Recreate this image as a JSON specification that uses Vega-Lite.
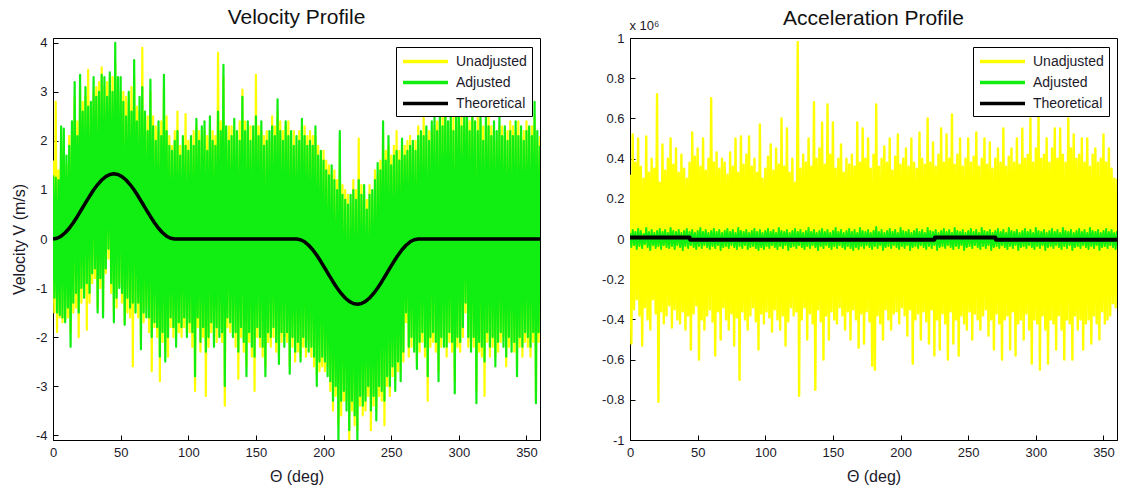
{
"$schema": "https://vega.github.io/schema/vega-lite/v6.json",
"background": "white",
"padding": {"left": 10, "top": 6, "right": 4, "bottom": 2},
"config": {
  "font": "Liberation Sans",
  "view": {"stroke": "#000", "strokeWidth": 1},
  "axis": {"grid": false, "domainColor": "#000", "tickColor": "#000", "tickSize": -5, "labelPadding": 11, "labelFontSize": 13, "labelColor": "#1c1a2a", "labelFont": "Liberation Sans", "titleFont": "Liberation Sans", "titleFontSize": 16, "titleFontWeight": "normal", "titleColor": "#1c1a2a", "labelFlush": false, "labelOverlap": false},
  "axisX": {"titlePadding": 9},
  "axisY": {"titlePadding": 8},
  "title": {"fontSize": 21, "fontWeight": "normal", "font": "Liberation Sans", "color": "#111", "offset": 9, "baseline": "alphabetic"},
  "line": {"strokeJoin": "round"},
  "legend": {"orient": "none", "legendY": 9, "title": null, "strokeColor": "#000", "fillColor": "#fff", "padding": 5, "symbolType": "M-1,0H5", "symbolSize": 225, "symbolStrokeWidth": 3.5, "labelFontSize": 14, "labelFont": "Liberation Sans", "labelColor": "#1c1a2a", "labelOffset": 36, "rowPadding": 4, "cornerRadius": 0}
},
"datasets": {
"vel": [
{"t":0,"u":1.6,"a":1.3},{"t":1,"u":-1.5,"a":-1.2},{"t":2,"u":2.8,"a":1.25},{"t":3,"u":-1.9,"a":-1.5},{"t":4,"u":1.4,"a":1.2},{"t":5,"u":-1.6,"a":-1.55},{"t":6,"u":2.2,"a":2.3},{"t":7,"u":-1.7,"a":-1.6},{"t":8,"u":1.9,"a":2.25},{"t":9,"u":-1.65,"a":-1.7},
{"t":10,"u":1.5,"a":1.7},{"t":11,"u":-1.6,"a":-1.4},{"t":12,"u":2.1,"a":1.9},{"t":13,"u":-1.9,"a":-2.2},{"t":14,"u":2.2,"a":2.4},{"t":15,"u":-1.5,"a":-1.3},{"t":16,"u":2.9,"a":3.2},{"t":17,"u":-1.4,"a":-1.1},{"t":18,"u":2.4,"a":2.1},{"t":19,"u":-2.0,"a":-1.5},
{"t":20,"u":3.1,"a":3.35},{"t":21,"u":-1.3,"a":-1.0},{"t":22,"u":2.8,"a":2.6},{"t":23,"u":-1.1,"a":-1.2},{"t":24,"u":2.9,"a":3.1},{"t":25,"u":-1.85,"a":-0.9},{"t":26,"u":3.45,"a":2.7},{"t":27,"u":-1.3,"a":-1.1},{"t":28,"u":2.6,"a":2.8},{"t":29,"u":-0.9,"a":-0.7},
{"t":30,"u":3.0,"a":3.3},{"t":31,"u":-0.8,"a":-0.6},{"t":32,"u":3.1,"a":2.9},{"t":33,"u":-1.4,"a":-1.5},{"t":34,"u":3.2,"a":3.0},{"t":35,"u":-1.0,"a":-0.8},{"t":36,"u":3.5,"a":3.35},{"t":37,"u":-1.5,"a":-1.6},{"t":38,"u":3.1,"a":3.3},{"t":39,"u":-0.7,"a":-0.6},
{"t":40,"u":3.2,"a":2.9},{"t":41,"u":-0.4,"a":-0.2},{"t":42,"u":3.3,"a":3.4},{"t":43,"u":-1.1,"a":-0.9},{"t":44,"u":3.3,"a":3.0},{"t":45,"u":-1.5,"a":-1.7},{"t":46,"u":3.6,"a":4.0},{"t":47,"u":-1.4,"a":-1.2},{"t":48,"u":3.1,"a":3.3},{"t":49,"u":-0.9,"a":-1.0},
{"t":50,"u":3.0,"a":3.3},{"t":51,"u":-1.3,"a":-1.1},{"t":52,"u":3.0,"a":2.8},{"t":53,"u":-1.7,"a":-1.75},{"t":54,"u":2.9,"a":2.5},{"t":55,"u":-1.5,"a":-1.2},{"t":56,"u":2.8,"a":3.0},{"t":57,"u":-1.6,"a":-1.4},{"t":58,"u":3.1,"a":2.6},{"t":59,"u":-2.6,"a":-1.3},
{"t":60,"u":3.3,"a":3.65},{"t":61,"u":-1.3,"a":-1.5},{"t":62,"u":2.7,"a":2.4},{"t":63,"u":-1.6,"a":-1.3},{"t":64,"u":2.6,"a":2.9},{"t":65,"u":-2.1,"a":-2.25},{"t":66,"u":3.9,"a":3.1},{"t":67,"u":-1.7,"a":-1.5},{"t":68,"u":2.4,"a":2.6},{"t":69,"u":-1.4,"a":-1.6},
{"t":70,"u":2.5,"a":2.2},{"t":71,"u":-1.9,"a":-1.6},{"t":72,"u":3.0,"a":3.25},{"t":73,"u":-2.7,"a":-2.0},{"t":74,"u":2.5,"a":2.3},{"t":75,"u":-1.8,"a":-1.7},{"t":76,"u":2.3,"a":2.0},{"t":77,"u":-2.0,"a":-1.8},{"t":78,"u":2.2,"a":2.4},{"t":79,"u":-2.9,"a":-2.4},
{"t":80,"u":2.4,"a":2.1},{"t":81,"u":-2.1,"a":-1.9},{"t":82,"u":3.1,"a":3.35},{"t":83,"u":-2.3,"a":-2.5},{"t":84,"u":2.5,"a":2.2},{"t":85,"u":-2.4,"a":-2.0},{"t":86,"u":2.1,"a":1.9},{"t":87,"u":-1.8,"a":-1.6},{"t":88,"u":1.9,"a":1.8},{"t":89,"u":-2.0,"a":-1.8},
{"t":90,"u":2.2,"a":2.0},{"t":91,"u":-2.0,"a":-2.2},{"t":92,"u":2.6,"a":2.2},{"t":93,"u":-1.9,"a":-1.7},{"t":94,"u":1.9,"a":1.7},{"t":95,"u":-2.0,"a":-1.8},{"t":96,"u":1.9,"a":2.1},{"t":97,"u":-1.8,"a":-1.6},{"t":98,"u":2.55,"a":1.9},{"t":99,"u":-1.9,"a":-2.0},
{"t":100,"u":2.0,"a":1.8},{"t":101,"u":-1.9,"a":-1.7},{"t":102,"u":2.0,"a":2.1},{"t":103,"u":-2.2,"a":-1.9},{"t":104,"u":2.2,"a":1.9},{"t":105,"u":-3.1,"a":-2.8},{"t":106,"u":2.3,"a":2.45},{"t":107,"u":-1.8,"a":-1.6},{"t":108,"u":2.2,"a":2.0},{"t":109,"u":-2.3,"a":-2.1},
{"t":110,"u":2.1,"a":2.3},{"t":111,"u":-2.0,"a":-1.8},{"t":112,"u":2.2,"a":2.4},{"t":113,"u":-3.2,"a":-2.3},{"t":114,"u":2.1,"a":1.8},{"t":115,"u":-2.2,"a":-2.0},{"t":116,"u":2.3,"a":2.5},{"t":117,"u":-1.9,"a":-1.7},{"t":118,"u":2.2,"a":2.0},{"t":119,"u":-2.0,"a":-2.2},
{"t":120,"u":2.1,"a":1.9},{"t":121,"u":-2.1,"a":-1.8},{"t":122,"u":3.8,"a":2.6},{"t":123,"u":-1.8,"a":-2.0},{"t":124,"u":2.4,"a":2.2},{"t":125,"u":-2.1,"a":-1.9},{"t":126,"u":3.3,"a":3.55},{"t":127,"u":-3.4,"a":-3.0},{"t":128,"u":2.1,"a":2.3},{"t":129,"u":-1.8,"a":-1.6},
{"t":130,"u":2.3,"a":2.0},{"t":131,"u":-1.9,"a":-1.7},{"t":132,"u":2.3,"a":2.1},{"t":133,"u":-1.9,"a":-2.0},{"t":134,"u":2.2,"a":2.45},{"t":135,"u":-2.2,"a":-1.9},{"t":136,"u":2.0,"a":2.2},{"t":137,"u":-2.85,"a":-2.3},{"t":138,"u":2.4,"a":2.0},{"t":139,"u":-2.0,"a":-1.8},
{"t":140,"u":3.05,"a":2.9},{"t":141,"u":-2.3,"a":-2.1},{"t":142,"u":2.4,"a":2.2},{"t":143,"u":-2.6,"a":-2.8},{"t":144,"u":2.2,"a":2.4},{"t":145,"u":-2.1,"a":-1.9},{"t":146,"u":2.3,"a":2.0},{"t":147,"u":-2.4,"a":-2.2},{"t":148,"u":2.1,"a":2.3},{"t":149,"u":-3.1,"a":-2.4},
{"t":150,"u":3.35,"a":2.5},{"t":151,"u":-2.0,"a":-1.8},{"t":152,"u":2.3,"a":2.1},{"t":153,"u":-2.2,"a":-2.0},{"t":154,"u":2.2,"a":2.4},{"t":155,"u":-2.4,"a":-2.2},{"t":156,"u":2.1,"a":1.9},{"t":157,"u":-2.6,"a":-2.8},{"t":158,"u":2.2,"a":2.0},{"t":159,"u":-2.1,"a":-1.9},
{"t":160,"u":2.0,"a":2.2},{"t":161,"u":-2.2,"a":-2.0},{"t":162,"u":2.5,"a":2.3},{"t":163,"u":-2.0,"a":-1.8},{"t":164,"u":2.3,"a":2.1},{"t":165,"u":-2.3,"a":-2.1},{"t":166,"u":2.6,"a":2.85},{"t":167,"u":-2.4,"a":-2.55},{"t":168,"u":2.4,"a":2.2},{"t":169,"u":-2.1,"a":-1.9},
{"t":170,"u":2.2,"a":2.0},{"t":171,"u":-2.0,"a":-2.2},{"t":172,"u":2.3,"a":2.4},{"t":173,"u":-2.1,"a":-1.9},{"t":174,"u":2.4,"a":2.1},{"t":175,"u":-2.6,"a":-2.75},{"t":176,"u":2.0,"a":2.2},{"t":177,"u":-2.2,"a":-2.0},{"t":178,"u":2.2,"a":1.9},{"t":179,"u":-2.5,"a":-2.3},
{"t":180,"u":1.9,"a":2.1},{"t":181,"u":-2.3,"a":-2.1},{"t":182,"u":2.2,"a":2.0},{"t":183,"u":-2.4,"a":-2.5},{"t":184,"u":2.3,"a":2.45},{"t":185,"u":-2.2,"a":-2.0},{"t":186,"u":2.3,"a":2.1},{"t":187,"u":-2.4,"a":-2.2},{"t":188,"u":2.1,"a":1.9},{"t":189,"u":-2.1,"a":-2.3},
{"t":190,"u":2.2,"a":2.0},{"t":191,"u":-2.4,"a":-2.2},{"t":192,"u":2.1,"a":1.9},{"t":193,"u":-2.6,"a":-2.4},{"t":194,"u":2.1,"a":2.3},{"t":195,"u":-2.8,"a":-3.0},{"t":196,"u":1.9,"a":1.7},{"t":197,"u":-2.7,"a":-2.5},{"t":198,"u":1.6,"a":1.8},{"t":199,"u":-2.6,"a":-2.4},
{"t":200,"u":1.8,"a":1.6},{"t":201,"u":-2.7,"a":-2.5},{"t":202,"u":1.6,"a":1.4},{"t":203,"u":-2.6,"a":-2.8},{"t":204,"u":1.5,"a":1.3},{"t":205,"u":-3.1,"a":-2.9},{"t":206,"u":1.3,"a":1.5},{"t":207,"u":-3.5,"a":-3.3},{"t":208,"u":1.4,"a":1.2},{"t":209,"u":-3.2,"a":-3.0},
{"t":210,"u":1.2,"a":1.0},{"t":211,"u":-3.8,"a":-4.1},{"t":212,"u":2.0,"a":2.2},{"t":213,"u":-3.6,"a":-3.3},{"t":214,"u":1.1,"a":0.9},{"t":215,"u":-3.3,"a":-3.1},{"t":216,"u":1.0,"a":0.8},{"t":217,"u":-3.3,"a":-3.5},{"t":218,"u":0.9,"a":0.7},{"t":219,"u":-4.1,"a":-3.9},
{"t":220,"u":0.7,"a":0.9},{"t":221,"u":-3.5,"a":-3.3},{"t":222,"u":1.2,"a":1.0},{"t":223,"u":-3.8,"a":-3.6},{"t":224,"u":1.0,"a":0.8},{"t":225,"u":-3.9,"a":-4.1},{"t":226,"u":2.05,"a":1.2},{"t":227,"u":-3.4,"a":-3.2},{"t":228,"u":1.1,"a":0.9},{"t":229,"u":-3.6,"a":-3.4},
{"t":230,"u":0.9,"a":1.1},{"t":231,"u":-3.5,"a":-3.3},{"t":232,"u":0.8,"a":0.6},{"t":233,"u":-3.2,"a":-3.0},{"t":234,"u":1.1,"a":0.9},{"t":235,"u":-3.9,"a":-3.5},{"t":236,"u":0.8,"a":1.0},{"t":237,"u":-3.4,"a":-3.2},{"t":238,"u":1.4,"a":1.2},{"t":239,"u":-3.5,"a":-3.7},
{"t":240,"u":1.3,"a":1.55},{"t":241,"u":-3.2,"a":-3.0},{"t":242,"u":1.6,"a":1.4},{"t":243,"u":-3.3,"a":-3.1},{"t":244,"u":2.2,"a":2.4},{"t":245,"u":-3.8,"a":-3.3},{"t":246,"u":1.8,"a":1.6},{"t":247,"u":-3.0,"a":-2.8},{"t":248,"u":1.9,"a":2.1},{"t":249,"u":-3.2,"a":-3.0},
{"t":250,"u":1.7,"a":1.5},{"t":251,"u":-2.8,"a":-2.6},{"t":252,"u":1.9,"a":1.7},{"t":253,"u":-2.9,"a":-3.1},{"t":254,"u":2.2,"a":1.8},{"t":255,"u":-2.7,"a":-2.5},{"t":256,"u":1.8,"a":1.6},{"t":257,"u":-2.7,"a":-2.9},{"t":258,"u":1.9,"a":2.05},{"t":259,"u":-2.5,"a":-2.3},
{"t":260,"u":1.9,"a":1.7},{"t":261,"u":-1.7,"a":-1.5},{"t":262,"u":2.0,"a":1.8},{"t":263,"u":-2.4,"a":-2.2},{"t":264,"u":2.1,"a":1.9},{"t":265,"u":-2.2,"a":-2.0},{"t":266,"u":1.8,"a":2.0},{"t":267,"u":-2.1,"a":-2.3},{"t":268,"u":2.0,"a":1.8},{"t":269,"u":-2.5,"a":-2.65},
{"t":270,"u":2.3,"a":2.1},{"t":271,"u":-2.3,"a":-2.1},{"t":272,"u":2.0,"a":2.2},{"t":273,"u":-2.1,"a":-1.9},{"t":274,"u":2.55,"a":2.1},{"t":275,"u":-2.4,"a":-2.2},{"t":276,"u":2.1,"a":2.3},{"t":277,"u":-3.3,"a":-2.8},{"t":278,"u":2.2,"a":2.0},{"t":279,"u":-2.2,"a":-2.0},
{"t":280,"u":2.2,"a":2.4},{"t":281,"u":-2.1,"a":-1.9},{"t":282,"u":2.3,"a":2.5},{"t":283,"u":-2.3,"a":-2.1},{"t":284,"u":2.4,"a":2.2},{"t":285,"u":-2.7,"a":-2.9},{"t":286,"u":2.4,"a":2.6},{"t":287,"u":-2.2,"a":-2.0},{"t":288,"u":2.6,"a":2.3},{"t":289,"u":-2.0,"a":-2.2},
{"t":290,"u":2.5,"a":2.7},{"t":291,"u":-2.4,"a":-2.2},{"t":292,"u":2.2,"a":2.4},{"t":293,"u":-2.1,"a":-1.9},{"t":294,"u":2.4,"a":2.6},{"t":295,"u":-2.3,"a":-2.1},{"t":296,"u":2.5,"a":2.2},{"t":297,"u":-2.9,"a":-3.15},{"t":298,"u":2.3,"a":2.5},{"t":299,"u":-2.2,"a":-2.0},
{"t":300,"u":2.5,"a":2.7},{"t":301,"u":-2.3,"a":-2.1},{"t":302,"u":2.6,"a":2.3},{"t":303,"u":-2.0,"a":-1.8},{"t":304,"u":2.3,"a":2.5},{"t":305,"u":-1.5,"a":-1.3},{"t":306,"u":2.6,"a":2.8},{"t":307,"u":-2.2,"a":-2.0},{"t":308,"u":2.4,"a":2.2},{"t":309,"u":-2.1,"a":-2.3},
{"t":310,"u":2.8,"a":2.6},{"t":311,"u":-2.2,"a":-2.0},{"t":312,"u":2.2,"a":2.4},{"t":313,"u":-3.1,"a":-3.35},{"t":314,"u":2.5,"a":2.2},{"t":315,"u":-2.3,"a":-2.1},{"t":316,"u":2.4,"a":2.6},{"t":317,"u":-2.4,"a":-2.2},{"t":318,"u":2.3,"a":2.0},{"t":319,"u":-3.2,"a":-2.5},
{"t":320,"u":2.3,"a":2.5},{"t":321,"u":-2.1,"a":-1.9},{"t":322,"u":2.5,"a":2.3},{"t":323,"u":-2.4,"a":-2.2},{"t":324,"u":2.3,"a":2.1},{"t":325,"u":-2.2,"a":-2.0},{"t":326,"u":2.2,"a":2.4},{"t":327,"u":-2.4,"a":-2.6},{"t":328,"u":2.0,"a":2.2},{"t":329,"u":-2.3,"a":-2.1},
{"t":330,"u":2.3,"a":2.5},{"t":331,"u":-2.1,"a":-1.9},{"t":332,"u":2.3,"a":2.1},{"t":333,"u":-2.0,"a":-2.2},{"t":334,"u":2.1,"a":2.3},{"t":335,"u":-2.6,"a":-2.4},{"t":336,"u":2.2,"a":2.0},{"t":337,"u":-2.2,"a":-2.0},{"t":338,"u":2.4,"a":2.2},{"t":339,"u":-2.1,"a":-2.3},
{"t":340,"u":2.3,"a":2.1},{"t":341,"u":-2.3,"a":-2.1},{"t":342,"u":2.2,"a":2.4},{"t":343,"u":-2.6,"a":-2.8},{"t":344,"u":2.4,"a":2.1},{"t":345,"u":-2.2,"a":-2.0},{"t":346,"u":2.1,"a":2.3},{"t":347,"u":-2.4,"a":-2.2},{"t":348,"u":2.2,"a":2.0},{"t":349,"u":-2.1,"a":-1.9},
{"t":350,"u":2.4,"a":2.2},{"t":351,"u":-2.2,"a":-2.0},{"t":352,"u":2.1,"a":2.3},{"t":353,"u":-2.4,"a":-2.2},{"t":354,"u":2.3,"a":2.1},{"t":355,"u":-2.1,"a":-1.9},{"t":356,"u":2.5,"a":2.8},{"t":357,"u":-3.3,"a":-3.35},{"t":358,"u":2.0,"a":2.2},{"t":359,"u":-2.1,"a":-1.9},
{"t":360,"u":2.1,"a":1.9}
],
"vth": [
{"t":0,"v":0},{"t":3,"v":0.015},{"t":6,"v":0.057},{"t":9,"v":0.127},{"t":12,"v":0.22},{"t":15,"v":0.333},{"t":18,"v":0.46},{"t":21,"v":0.596},{"t":24,"v":0.735},{"t":27,"v":0.871},{"t":30,"v":0.998},{"t":33,"v":1.11},{"t":36,"v":1.203},{"t":39,"v":1.273},{"t":42,"v":1.316},{"t":45,"v":1.33},{"t":48,"v":1.316},{"t":51,"v":1.273},{"t":54,"v":1.203},{"t":57,"v":1.11},{"t":60,"v":0.998},{"t":63,"v":0.871},{"t":66,"v":0.735},{"t":69,"v":0.596},{"t":72,"v":0.46},{"t":75,"v":0.333},{"t":78,"v":0.22},{"t":81,"v":0.127},{"t":84,"v":0.057},{"t":87,"v":0.015},{"t":90,"v":0},
{"t":180,"v":0},{"t":183,"v":-0.015},{"t":186,"v":-0.057},{"t":189,"v":-0.127},{"t":192,"v":-0.22},{"t":195,"v":-0.333},{"t":198,"v":-0.46},{"t":201,"v":-0.596},{"t":204,"v":-0.735},{"t":207,"v":-0.871},{"t":210,"v":-0.998},{"t":213,"v":-1.11},{"t":216,"v":-1.203},{"t":219,"v":-1.273},{"t":222,"v":-1.316},{"t":225,"v":-1.33},{"t":228,"v":-1.316},{"t":231,"v":-1.273},{"t":234,"v":-1.203},{"t":237,"v":-1.11},{"t":240,"v":-0.998},{"t":243,"v":-0.871},{"t":246,"v":-0.735},{"t":249,"v":-0.596},{"t":252,"v":-0.46},{"t":255,"v":-0.333},{"t":258,"v":-0.22},{"t":261,"v":-0.127},{"t":264,"v":-0.057},{"t":267,"v":-0.015},{"t":270,"v":0},{"t":360,"v":0}
],
"acc": [
{"t":0,"u":0.32,"a":0.03},{"t":1,"u":-0.52,"a":-0.04},{"t":2,"u":0.52,"a":0.045},{"t":3,"u":-0.35,"a":-0.03},{"t":4,"u":0.38,"a":0.035},{"t":5,"u":-0.3,"a":-0.05},{"t":6,"u":0.5,"a":0.05},{"t":7,"u":-0.38,"a":-0.035},{"t":8,"u":0.36,"a":0.04},{"t":9,"u":-0.53,"a":-0.045},
{"t":10,"u":0.3,"a":0.025},{"t":11,"u":-0.34,"a":-0.025},{"t":12,"u":0.51,"a":0.055},{"t":13,"u":-0.4,"a":-0.04},{"t":14,"u":0.33,"a":0.035},{"t":15,"u":-0.45,"a":-0.055},{"t":16,"u":0.4,"a":0.045},{"t":17,"u":-0.3,"a":-0.03},{"t":18,"u":0.35,"a":0.03},{"t":19,"u":-0.37,"a":-0.045},
{"t":20,"u":0.72,"a":0.04},{"t":21,"u":-0.81,"a":-0.035},{"t":22,"u":0.28,"a":0.05},{"t":23,"u":-0.36,"a":-0.05},{"t":24,"u":0.47,"a":0.035},{"t":25,"u":-0.42,"a":-0.03},{"t":26,"u":0.34,"a":0.045},{"t":27,"u":-0.38,"a":-0.04},{"t":28,"u":0.4,"a":0.03},{"t":29,"u":-0.33,"a":-0.045},
{"t":30,"u":0.5,"a":0.055},{"t":31,"u":-0.44,"a":-0.035},{"t":32,"u":0.37,"a":0.04},{"t":33,"u":-0.35,"a":-0.05},{"t":34,"u":0.45,"a":0.035},{"t":35,"u":-0.4,"a":-0.03},{"t":36,"u":0.33,"a":0.045},{"t":37,"u":-0.42,"a":-0.04},{"t":38,"u":0.42,"a":0.03},{"t":39,"u":-0.36,"a":-0.055},
{"t":40,"u":0.35,"a":0.04},{"t":41,"u":-0.45,"a":-0.035},{"t":42,"u":0.3,"a":0.05},{"t":43,"u":-0.38,"a":-0.045},{"t":44,"u":0.38,"a":0.035},{"t":45,"u":-0.55,"a":-0.03},{"t":46,"u":0.53,"a":0.045},{"t":47,"u":-0.37,"a":-0.04},{"t":48,"u":0.41,"a":0.03},{"t":49,"u":-0.33,"a":-0.05},
{"t":50,"u":0.45,"a":0.04},{"t":51,"u":-0.6,"a":-0.035},{"t":52,"u":0.36,"a":0.055},{"t":53,"u":-0.4,"a":-0.045},{"t":54,"u":0.5,"a":0.035},{"t":55,"u":-0.45,"a":-0.03},{"t":56,"u":0.34,"a":0.045},{"t":57,"u":-0.38,"a":-0.04},{"t":58,"u":0.4,"a":0.03},{"t":59,"u":-0.35,"a":-0.05},
{"t":60,"u":0.7,"a":0.04},{"t":61,"u":-0.41,"a":-0.035},{"t":62,"u":0.38,"a":0.05},{"t":63,"u":-0.58,"a":-0.045},{"t":64,"u":0.43,"a":0.035},{"t":65,"u":-0.36,"a":-0.03},{"t":66,"u":0.35,"a":0.045},{"t":67,"u":-0.5,"a":-0.055},{"t":68,"u":0.4,"a":0.03},{"t":69,"u":-0.34,"a":-0.04},
{"t":70,"u":0.38,"a":0.04},{"t":71,"u":-0.4,"a":-0.035},{"t":72,"u":0.32,"a":0.05},{"t":73,"u":-0.45,"a":-0.045},{"t":74,"u":0.43,"a":0.035},{"t":75,"u":-0.37,"a":-0.03},{"t":76,"u":0.36,"a":0.045},{"t":77,"u":-0.53,"a":-0.04},{"t":78,"u":0.5,"a":0.03},{"t":79,"u":-0.39,"a":-0.05},
{"t":80,"u":0.33,"a":0.055},{"t":81,"u":-0.7,"a":-0.035},{"t":82,"u":0.51,"a":0.04},{"t":83,"u":-0.36,"a":-0.045},{"t":84,"u":0.37,"a":0.035},{"t":85,"u":-0.4,"a":-0.03},{"t":86,"u":0.42,"a":0.045},{"t":87,"u":-0.45,"a":-0.05},{"t":88,"u":0.51,"a":0.03},{"t":89,"u":-0.38,"a":-0.04},
{"t":90,"u":0.36,"a":0.04},{"t":91,"u":-0.34,"a":-0.035},{"t":92,"u":0.4,"a":0.05},{"t":93,"u":-0.41,"a":-0.045},{"t":94,"u":0.33,"a":0.035},{"t":95,"u":-0.55,"a":-0.055},{"t":96,"u":0.57,"a":0.045},{"t":97,"u":-0.37,"a":-0.04},{"t":98,"u":0.3,"a":0.03},{"t":99,"u":-0.42,"a":-0.05},
{"t":100,"u":0.35,"a":0.04},{"t":101,"u":-0.36,"a":-0.035},{"t":102,"u":0.41,"a":0.05},{"t":103,"u":-0.39,"a":-0.045},{"t":104,"u":0.47,"a":0.035},{"t":105,"u":-0.46,"a":-0.03},{"t":106,"u":0.34,"a":0.045},{"t":107,"u":-0.35,"a":-0.04},{"t":108,"u":0.45,"a":0.03},{"t":109,"u":-0.4,"a":-0.05},
{"t":110,"u":0.37,"a":0.055},{"t":111,"u":-0.45,"a":-0.035},{"t":112,"u":0.6,"a":0.04},{"t":113,"u":-0.38,"a":-0.045},{"t":114,"u":0.36,"a":0.035},{"t":115,"u":-0.53,"a":-0.03},{"t":116,"u":0.55,"a":0.045},{"t":117,"u":-0.41,"a":-0.055},{"t":118,"u":0.33,"a":0.03},{"t":119,"u":-0.34,"a":-0.04},
{"t":120,"u":0.4,"a":0.04},{"t":121,"u":-0.38,"a":-0.035},{"t":122,"u":0.28,"a":0.05},{"t":123,"u":-0.36,"a":-0.045},{"t":124,"u":0.98,"a":0.035},{"t":125,"u":-0.78,"a":-0.03},{"t":126,"u":0.35,"a":0.045},{"t":127,"u":-0.4,"a":-0.04},{"t":128,"u":0.42,"a":0.03},{"t":129,"u":-0.34,"a":-0.05},
{"t":130,"u":0.38,"a":0.04},{"t":131,"u":-0.5,"a":-0.035},{"t":132,"u":0.5,"a":0.055},{"t":133,"u":-0.37,"a":-0.045},{"t":134,"u":0.36,"a":0.035},{"t":135,"u":-0.42,"a":-0.03},{"t":136,"u":0.68,"a":0.045},{"t":137,"u":-0.75,"a":-0.04},{"t":138,"u":0.4,"a":0.03},{"t":139,"u":-0.35,"a":-0.055},
{"t":140,"u":0.45,"a":0.04},{"t":141,"u":-0.41,"a":-0.035},{"t":142,"u":0.58,"a":0.05},{"t":143,"u":-0.6,"a":-0.045},{"t":144,"u":0.37,"a":0.035},{"t":145,"u":-0.38,"a":-0.03},{"t":146,"u":0.67,"a":0.045},{"t":147,"u":-0.5,"a":-0.04},{"t":148,"u":0.42,"a":0.03},{"t":149,"u":-0.36,"a":-0.05},
{"t":150,"u":0.58,"a":0.04},{"t":151,"u":-0.4,"a":-0.035},{"t":152,"u":0.35,"a":0.055},{"t":153,"u":-0.42,"a":-0.045},{"t":154,"u":0.4,"a":0.035},{"t":155,"u":-0.34,"a":-0.03},{"t":156,"u":0.47,"a":0.045},{"t":157,"u":-0.38,"a":-0.04},{"t":158,"u":0.33,"a":0.03},{"t":159,"u":-0.45,"a":-0.05},
{"t":160,"u":0.4,"a":0.04},{"t":161,"u":-0.36,"a":-0.035},{"t":162,"u":0.37,"a":0.05},{"t":163,"u":-0.5,"a":-0.045},{"t":164,"u":0.42,"a":0.035},{"t":165,"u":-0.35,"a":-0.055},{"t":166,"u":0.36,"a":0.045},{"t":167,"u":-0.4,"a":-0.04},{"t":168,"u":0.58,"a":0.03},{"t":169,"u":-0.54,"a":-0.05},
{"t":170,"u":0.38,"a":0.055},{"t":171,"u":-0.37,"a":-0.035},{"t":172,"u":0.55,"a":0.04},{"t":173,"u":-0.52,"a":-0.045},{"t":174,"u":0.4,"a":0.035},{"t":175,"u":-0.36,"a":-0.03},{"t":176,"u":0.5,"a":0.045},{"t":177,"u":-0.41,"a":-0.04},{"t":178,"u":0.35,"a":0.03},{"t":179,"u":-0.63,"a":-0.05},
{"t":180,"u":0.42,"a":0.04},{"t":181,"u":-0.65,"a":-0.035},{"t":182,"u":0.67,"a":0.06},{"t":183,"u":-0.38,"a":-0.045},{"t":184,"u":0.36,"a":0.035},{"t":185,"u":-0.42,"a":-0.03},{"t":186,"u":0.4,"a":0.045},{"t":187,"u":-0.5,"a":-0.055},{"t":188,"u":0.46,"a":0.03},{"t":189,"u":-0.35,"a":-0.04},
{"t":190,"u":0.38,"a":0.04},{"t":191,"u":-0.4,"a":-0.035},{"t":192,"u":0.5,"a":0.05},{"t":193,"u":-0.45,"a":-0.045},{"t":194,"u":0.34,"a":0.035},{"t":195,"u":-0.37,"a":-0.03},{"t":196,"u":0.41,"a":0.045},{"t":197,"u":-0.36,"a":-0.04},{"t":198,"u":0.52,"a":0.03},{"t":199,"u":-0.42,"a":-0.05},
{"t":200,"u":0.37,"a":0.055},{"t":201,"u":-0.34,"a":-0.035},{"t":202,"u":0.4,"a":0.04},{"t":203,"u":-0.38,"a":-0.045},{"t":204,"u":0.45,"a":0.035},{"t":205,"u":-0.48,"a":-0.03},{"t":206,"u":0.36,"a":0.045},{"t":207,"u":-0.35,"a":-0.055},{"t":208,"u":0.5,"a":0.03},{"t":209,"u":-0.62,"a":-0.04},
{"t":210,"u":0.38,"a":0.04},{"t":211,"u":-0.4,"a":-0.035},{"t":212,"u":0.35,"a":0.05},{"t":213,"u":-0.37,"a":-0.045},{"t":214,"u":0.53,"a":0.035},{"t":215,"u":-0.5,"a":-0.03},{"t":216,"u":0.4,"a":0.045},{"t":217,"u":-0.36,"a":-0.04},{"t":218,"u":0.37,"a":0.03},{"t":219,"u":-0.41,"a":-0.05},
{"t":220,"u":0.6,"a":0.055},{"t":221,"u":-0.52,"a":-0.035},{"t":222,"u":0.38,"a":0.04},{"t":223,"u":-0.35,"a":-0.045},{"t":224,"u":0.48,"a":0.035},{"t":225,"u":-0.58,"a":-0.03},{"t":226,"u":0.36,"a":0.045},{"t":227,"u":-0.4,"a":-0.055},{"t":228,"u":0.42,"a":0.03},{"t":229,"u":-0.55,"a":-0.04},
{"t":230,"u":0.55,"a":0.04},{"t":231,"u":-0.37,"a":-0.035},{"t":232,"u":0.38,"a":0.05},{"t":233,"u":-0.42,"a":-0.045},{"t":234,"u":0.52,"a":0.035},{"t":235,"u":-0.6,"a":-0.03},{"t":236,"u":0.4,"a":0.045},{"t":237,"u":-0.36,"a":-0.04},{"t":238,"u":0.62,"a":0.03},{"t":239,"u":-0.52,"a":-0.05},
{"t":240,"u":0.37,"a":0.055},{"t":241,"u":-0.4,"a":-0.035},{"t":242,"u":0.42,"a":0.04},{"t":243,"u":-0.58,"a":-0.045},{"t":244,"u":0.5,"a":0.035},{"t":245,"u":-0.38,"a":-0.03},{"t":246,"u":0.36,"a":0.045},{"t":247,"u":-0.42,"a":-0.055},{"t":248,"u":0.4,"a":0.03},{"t":249,"u":-0.45,"a":-0.04},
{"t":250,"u":0.5,"a":0.04},{"t":251,"u":-0.36,"a":-0.035},{"t":252,"u":0.38,"a":0.05},{"t":253,"u":-0.5,"a":-0.045},{"t":254,"u":0.41,"a":0.035},{"t":255,"u":-0.37,"a":-0.03},{"t":256,"u":0.53,"a":0.045},{"t":257,"u":-0.4,"a":-0.04},{"t":258,"u":0.36,"a":0.03},{"t":259,"u":-0.45,"a":-0.05},
{"t":260,"u":0.4,"a":0.055},{"t":261,"u":-0.38,"a":-0.035},{"t":262,"u":0.5,"a":0.04},{"t":263,"u":-0.35,"a":-0.045},{"t":264,"u":0.37,"a":0.035},{"t":265,"u":-0.48,"a":-0.03},{"t":266,"u":0.48,"a":0.045},{"t":267,"u":-0.4,"a":-0.055},{"t":268,"u":0.35,"a":0.03},{"t":269,"u":-0.55,"a":-0.04},
{"t":270,"u":0.4,"a":0.04},{"t":271,"u":-0.37,"a":-0.035},{"t":272,"u":0.45,"a":0.05},{"t":273,"u":-0.42,"a":-0.045},{"t":274,"u":0.38,"a":0.035},{"t":275,"u":-0.6,"a":-0.03},{"t":276,"u":0.55,"a":0.045},{"t":277,"u":-0.4,"a":-0.04},{"t":278,"u":0.36,"a":0.03},{"t":279,"u":-0.38,"a":-0.05},
{"t":280,"u":0.41,"a":0.055},{"t":281,"u":-0.55,"a":-0.035},{"t":282,"u":0.45,"a":0.04},{"t":283,"u":-0.36,"a":-0.045},{"t":284,"u":0.38,"a":0.035},{"t":285,"u":-0.58,"a":-0.03},{"t":286,"u":0.5,"a":0.045},{"t":287,"u":-0.42,"a":-0.055},{"t":288,"u":0.37,"a":0.03},{"t":289,"u":-0.4,"a":-0.04},
{"t":290,"u":0.55,"a":0.04},{"t":291,"u":-0.5,"a":-0.035},{"t":292,"u":0.4,"a":0.05},{"t":293,"u":-0.37,"a":-0.045},{"t":294,"u":0.42,"a":0.035},{"t":295,"u":-0.45,"a":-0.03},{"t":296,"u":0.6,"a":0.045},{"t":297,"u":-0.62,"a":-0.04},{"t":298,"u":0.38,"a":0.03},{"t":299,"u":-0.4,"a":-0.05},
{"t":300,"u":0.45,"a":0.055},{"t":301,"u":-0.42,"a":-0.035},{"t":302,"u":0.62,"a":0.04},{"t":303,"u":-0.65,"a":-0.045},{"t":304,"u":0.4,"a":0.035},{"t":305,"u":-0.38,"a":-0.03},{"t":306,"u":0.42,"a":0.045},{"t":307,"u":-0.45,"a":-0.055},{"t":308,"u":0.5,"a":0.03},{"t":309,"u":-0.62,"a":-0.04},
{"t":310,"u":0.38,"a":0.04},{"t":311,"u":-0.4,"a":-0.035},{"t":312,"u":0.45,"a":0.05},{"t":313,"u":-0.42,"a":-0.045},{"t":314,"u":0.55,"a":0.035},{"t":315,"u":-0.55,"a":-0.03},{"t":316,"u":0.4,"a":0.045},{"t":317,"u":-0.38,"a":-0.04},{"t":318,"u":0.55,"a":0.03},{"t":319,"u":-0.45,"a":-0.05},
{"t":320,"u":0.42,"a":0.055},{"t":321,"u":-0.6,"a":-0.035},{"t":322,"u":0.38,"a":0.04},{"t":323,"u":-0.4,"a":-0.045},{"t":324,"u":0.6,"a":0.035},{"t":325,"u":-0.42,"a":-0.03},{"t":326,"u":0.45,"a":0.045},{"t":327,"u":-0.6,"a":-0.055},{"t":328,"u":0.52,"a":0.03},{"t":329,"u":-0.38,"a":-0.04},
{"t":330,"u":0.4,"a":0.04},{"t":331,"u":-0.45,"a":-0.035},{"t":332,"u":0.42,"a":0.05},{"t":333,"u":-0.4,"a":-0.045},{"t":334,"u":0.5,"a":0.035},{"t":335,"u":-0.55,"a":-0.03},{"t":336,"u":0.38,"a":0.045},{"t":337,"u":-0.42,"a":-0.04},{"t":338,"u":0.5,"a":0.03},{"t":339,"u":-0.4,"a":-0.05},
{"t":340,"u":0.36,"a":0.055},{"t":341,"u":-0.52,"a":-0.035},{"t":342,"u":0.42,"a":0.04},{"t":343,"u":-0.38,"a":-0.045},{"t":344,"u":0.45,"a":0.035},{"t":345,"u":-0.42,"a":-0.03},{"t":346,"u":0.38,"a":0.045},{"t":347,"u":-0.5,"a":-0.055},{"t":348,"u":0.4,"a":0.03},{"t":349,"u":-0.36,"a":-0.04},
{"t":350,"u":0.52,"a":0.04},{"t":351,"u":-0.42,"a":-0.035},{"t":352,"u":0.38,"a":0.05},{"t":353,"u":-0.4,"a":-0.045},{"t":354,"u":0.45,"a":0.035},{"t":355,"u":-0.38,"a":-0.03},{"t":356,"u":0.35,"a":0.045},{"t":357,"u":-0.32,"a":-0.04},{"t":358,"u":0.3,"a":0.03},{"t":359,"u":-0.34,"a":-0.05},
{"t":360,"u":0.3,"a":0.04}
],
"ath": [
{"t":0,"v":0.008},{"t":44,"v":0.008},{"t":44.5,"v":-0.004},{"t":225,"v":-0.004},{"t":225.5,"v":0.008},{"t":270,"v":0.008},{"t":270.5,"v":-0.004},{"t":360,"v":-0.004}
]
},
"hconcat": [
{
  "title": {"text": "Velocity Profile", "offset": 9},
  "width": 487, "height": 402,
  "encoding": {
    "x": {"field": "t", "type": "quantitative", "title": "Θ (deg)", "scale": {"domain": [0, 360], "nice": false, "zero": false},
          "axis": {"values": [0, 50, 100, 150, 200, 250, 300, 350]}}
  },
  "layer": [
    {"data": {"name": "vel"}, "mark": {"type": "line", "strokeWidth": 2.2, "clip": true},
     "encoding": {
       "y": {"field": "u", "type": "quantitative", "title": "Velocity V (m/s)", "scale": {"domain": [-4.1, 4.1], "nice": false, "zero": false},
             "axis": {"values": [-4, -3, -2, -1, 0, 1, 2, 3, 4], "labelExpr": "replace(datum.label, '\u2212', '-')"}},
       "color": {"datum": "Unadjusted", "type": "nominal", "scale": {"domain": ["Unadjusted", "Adjusted", "Theoretical"], "range": ["#ffff00", "#11ee11", "#000000"]}, "legend": {"legendX": 343}}
     }},
    {"data": {"name": "vel"}, "mark": {"type": "line", "strokeWidth": 2.2, "clip": true},
     "encoding": {
       "y": {"field": "a", "type": "quantitative", "title": "Velocity V (m/s)"},
       "color": {"datum": "Adjusted", "type": "nominal", "scale": {"domain": ["Unadjusted", "Adjusted", "Theoretical"], "range": ["#ffff00", "#11ee11", "#000000"]}, "legend": {"legendX": 343}}
     }},
    {"data": {"name": "vth"}, "mark": {"type": "line", "strokeWidth": 3.5, "clip": true},
     "encoding": {
       "y": {"field": "v", "type": "quantitative", "title": "Velocity V (m/s)"},
       "color": {"datum": "Theoretical", "type": "nominal", "scale": {"domain": ["Unadjusted", "Adjusted", "Theoretical"], "range": ["#ffff00", "#11ee11", "#000000"]}, "legend": {"legendX": 343}}
     }}
  ]
},
{
  "title": {"text": "Acceleration Profile", "offset": -10},
  "width": 487, "height": 402,
  "encoding": {
    "x": {"field": "t", "type": "quantitative", "title": "Θ (deg)", "scale": {"domain": [0, 360], "nice": false, "zero": false},
          "axis": {"values": [0, 50, 100, 150, 200, 250, 300, 350]}}
  },
  "layer": [
    {"data": {"name": "acc"}, "mark": {"type": "line", "strokeWidth": 2.4, "clip": true},
     "encoding": {
       "y": {"field": "u", "type": "quantitative", "title": "x 10⁶", "scale": {"domain": [-1, 1], "nice": false, "zero": false},
             "axis": {"values": [-1, -0.8, -0.6, -0.4, -0.2, 0, 0.2, 0.4, 0.6, 0.8, 1], "format": "~g", "labelExpr": "replace(datum.label, '\u2212', '-')",
                      "titleAngle": 0, "titleAlign": "left", "titleBaseline": "alphabetic", "titleX": -1, "titleY": -9, "titleFontSize": 13}},
       "color": {"datum": "Unadjusted", "type": "nominal", "scale": {"domain": ["Unadjusted", "Adjusted", "Theoretical"], "range": ["#ffff00", "#11ee11", "#000000"]}, "legend": {"legendX": 343}}
     }},
    {"data": {"name": "acc"}, "mark": {"type": "line", "strokeWidth": 2, "clip": true},
     "encoding": {
       "y": {"field": "a", "type": "quantitative", "title": "x 10⁶"},
       "color": {"datum": "Adjusted", "type": "nominal", "scale": {"domain": ["Unadjusted", "Adjusted", "Theoretical"], "range": ["#ffff00", "#11ee11", "#000000"]}, "legend": {"legendX": 343}}
     }},
    {"data": {"name": "ath"}, "mark": {"type": "line", "strokeWidth": 4, "clip": true},
     "encoding": {
       "y": {"field": "v", "type": "quantitative", "title": "x 10⁶"},
       "color": {"datum": "Theoretical", "type": "nominal", "scale": {"domain": ["Unadjusted", "Adjusted", "Theoretical"], "range": ["#ffff00", "#11ee11", "#000000"]}, "legend": {"legendX": 343}}
     }}
  ]
}
],
"resolve": {"scale": {"color": "independent"}, "legend": {"color": "independent"}},
"bounds": "flush",
"spacing": 90
}
